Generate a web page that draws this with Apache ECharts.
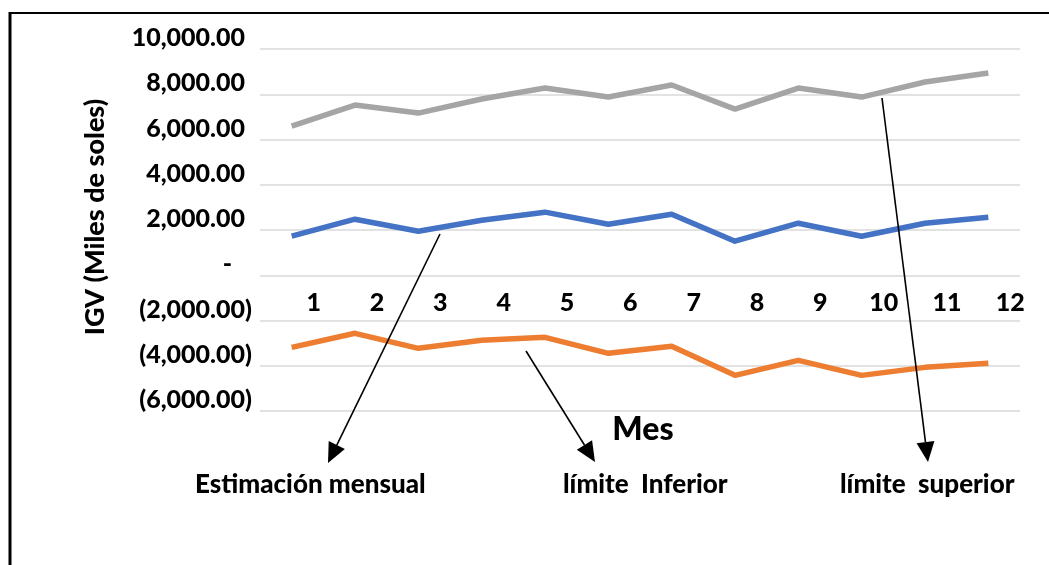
<!DOCTYPE html>
<html>
<head>
<meta charset="utf-8">
<script src="https://cdn.jsdelivr.net/npm/echarts@6/dist/echarts.min.js"></script>
<style>
  html, body { margin: 0; padding: 0; background: #fff; }
  #chart { width: 1049px; height: 565px; }
</style>
</head>
<body>
<div id="chart"></div>
<script>
// Meses
const months = ['1', '2', '3', '4', '5', '6', '7', '8', '9', '10', '11', '12'];
// IGV en miles de soles
const estimacionMensual = [1726, 2478, 1947, 2434, 2788, 2257, 2699, 1504, 2301, 1726, 2301, 2566];
const limiteInferior = [-3186, -2566, -3230, -2876, -2743, -3451, -3142, -4425, -3761, -4425, -4071, -3894];
const limiteSuperior = [6593, 7522, 7168, 7788, 8274, 7876, 8407, 7345, 8274, 7876, 8540, 8938];
// Eje vertical
const yMin = -6000, yMax = 10000, yStep = 2000;

const FONT = 'Lato';
const FW = 900;
const FS = 25;
const chart = echarts.init(document.getElementById('chart'), null, { renderer: 'canvas' });

function accounting(v) {
  if (v === 0) return '{z|-}';
  const s = Math.abs(v).toLocaleString('en-US', { minimumFractionDigits: 2, maximumFractionDigits: 2 });
  return v < 0 ? '{n|(' + s + ')}' : '{p|' + s + '}';
}

// Flecha: línea y punta triangular rellena
function arrow(x1, y1, x2, y2) {
  const dx = x2 - x1, dy = y2 - y1;
  const len = Math.hypot(dx, dy);
  const ux = dx / len, uy = dy / len;
  const hl = 20, hw = 9;
  const bx = x2 - ux * hl, by = y2 - uy * hl;
  return [
    { type: 'line', shape: { x1: x1, y1: y1, x2: bx, y2: by }, style: { stroke: '#000', lineWidth: 1.6 }, z: 10 },
    { type: 'polygon', shape: { points: [[x2, y2], [bx - uy * hw, by + ux * hw], [bx + uy * hw, by - ux * hw]] }, style: { fill: '#000' }, z: 10 }
  ];
}

function label(text, x, y) {
  return { type: 'text', x: x, y: y, style: { text: text, font: FW + ' 26px ' + FONT, fill: '#000', textAlign: 'left', textVerticalAlign: 'middle' }, z: 10 };
}

const lineSeries = (name, data, color) => ({
  name: name, type: 'line', data: data, symbol: 'none', smooth: false,
  lineStyle: { color: color, width: 5.5, join: 'round' }, itemStyle: { color: color },
  silent: true, animation: false
});

const richStyle = (pad) => ({ fontFamily: FONT, fontWeight: FW, fontSize: FS, color: '#000', padding: pad });

chart.setOption({
  backgroundColor: '#fff',
  animation: false,
  textStyle: { fontFamily: FONT },
  grid: { left: 260, right: 29, top: 49, bottom: 154, containLabel: false },
  xAxis: {
    type: 'category', data: months, boundaryGap: true,
    position: 'bottom', offset: -136,
    axisLine: { show: false, onZero: false },
    axisTick: { show: false },
    splitLine: { show: false },
    axisLabel: { margin: 15, color: '#000', fontFamily: FONT, fontWeight: FW, fontSize: FS, padding: [0, 0, 0, 44] }
  },
  yAxis: {
    type: 'value', min: yMin, max: yMax, interval: yStep,
    axisLine: { show: false }, axisTick: { show: false },
    splitLine: { lineStyle: { color: '#D9D9D9', width: 1.5 } },
    axisLabel: {
      margin: 8, color: '#000', fontFamily: FONT, fontWeight: FW, fontSize: FS,
      verticalAlign: 'bottom', lineHeight: 22,
      formatter: accounting,
      rich: {
        p: richStyle([0, 7, 0, 0]),
        n: richStyle([0, 0, 0, 0]),
        z: richStyle([0, 20, 0, 0])
      }
    }
  },
  series: [
    lineSeries('Estimación mensual', estimacionMensual, '#4472C4'),
    lineSeries('límite Inferior', limiteInferior, '#ED7D31'),
    lineSeries('límite superior', limiteSuperior, '#A5A5A5')
  ],
  graphic: [
    { type: 'line', shape: { x1: 10, y1: 13, x2: 1049, y2: 13 }, style: { stroke: '#000', lineWidth: 2 } },
    { type: 'line', shape: { x1: 10, y1: 12, x2: 10, y2: 565 }, style: { stroke: '#000', lineWidth: 3 } },
    {
      type: 'text', x: 95, y: 217, rotation: Math.PI / 2,
      style: { text: 'IGV (Miles de soles)', font: FW + ' 27px ' + FONT, fill: '#000', textAlign: 'center', textVerticalAlign: 'middle' }
    },
    { type: 'text', x: 643, y: 430, style: { text: 'Mes', font: FW + ' 32px ' + FONT, fill: '#000', textAlign: 'center', textVerticalAlign: 'middle' } },
    ...arrow(440, 234, 328, 463),
    ...arrow(526, 351, 595, 462),
    ...arrow(882, 98, 928, 462),
    label('Estimación mensual', 195, 485),
    label('límite  Inferior', 563, 485),
    label('límite  superior', 840, 485)
  ]
});
</script>
</body>
</html>
